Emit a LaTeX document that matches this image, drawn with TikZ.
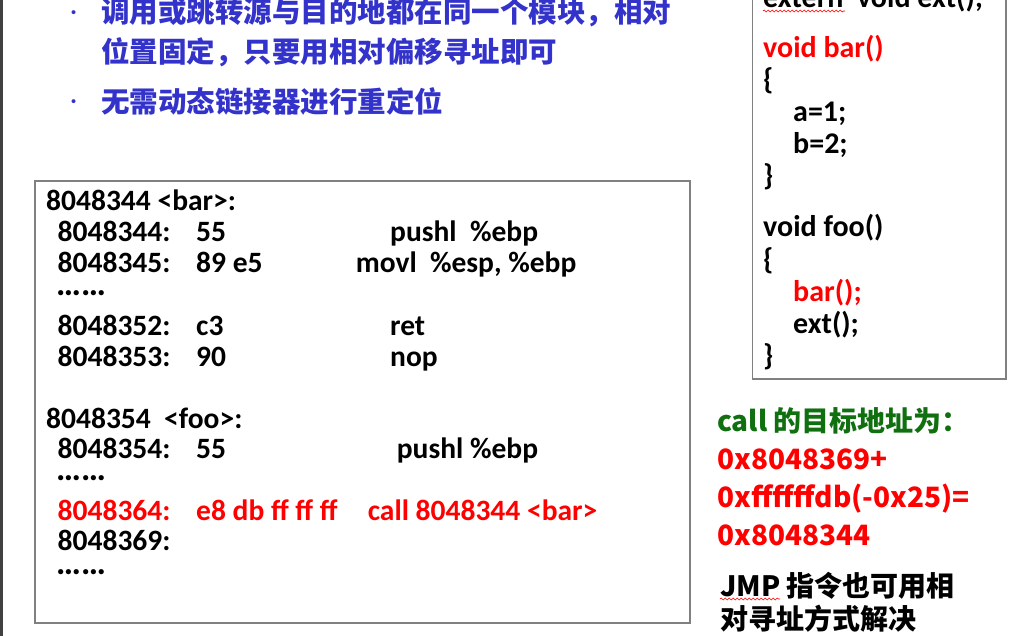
\documentclass[tikz,border=0pt]{standalone}
\usepackage{fontspec}
\setmainfont{Carlito}
\newfontfamily\cjk{Noto Sans CJK SC}
\usetikzlibrary{decorations.pathmorphing}
\definecolor{slideblue}{RGB}{51,51,204}
\definecolor{notegreen}{RGB}{16,112,16}
\definecolor{boxgray}{RGB}{128,128,128}
\definecolor{stripegray}{RGB}{64,64,64}
\tikzset{
  asm/.style={anchor=base west,inner sep=0pt,font=\fontsize{29.5}{31}\selectfont\bfseries},
  gap/.style={asm,font=\fontsize{35}{35}\selectfont\bfseries},
  src/.style={anchor=base west,inner sep=0pt,font=\fontsize{30}{32}\selectfont\bfseries},
  note/.style={anchor=base west,inner sep=0pt,font=\cjk\bfseries\fontsize{28}{34}\selectfont},
  hint/.style={note,text=slideblue,font=\cjk\bfseries\fontsize{28.5}{34}\selectfont},
  bullet/.style={anchor=base west,inner sep=0pt,text=slideblue,font=\fontsize{28}{34}\selectfont},
  wavy/.style={red,line width=0.6pt,decorate,decoration={snake,amplitude=1pt,segment length=4pt}},
}
\begin{document}
\begin{tikzpicture}[x=1pt,y=-1pt]
  \clip (0,0) rectangle (1020,636);
  \fill[stripegray] (0,0) rectangle (3,636);
  % bullet points
  \path
  (70,21) node[bullet] (dot1) {·}
  (101,23) node[hint] (line1) {调用或跳转源与目的地都在同一个模块，相对}
  (101,62.5) node[hint] (line2) {位置固定，只要用相对偏移寻址即可}
  (70,110) node[bullet] (dot2) {·}
  (101,113) node[hint] (line3) {无需动态链接器进行重定位};
  % disassembly box
  \draw[boxgray,line width=1.2pt] (35,181) rectangle (690,623);
  \path
  (46,211) node[asm] (bar) {8048344 <bar>:}
  (57.5,242) node[asm] (b1) {8048344:} ++(138.5,0) node[asm] (b1x) {55} ++(194,0) node[asm] (b1m) {pushl\ \ \%ebp}
  (57.5,273) node[asm] (b2) {8048345:} ++(138.5,0) node[asm] (b2x) {89 e5} ++(159.6,0) node[asm] (b2m) {movl\ \ \%esp, \%ebp}
  (56,296) node[gap] (b3) {……}
  (57.5,335) node[asm] (b4) {8048352:} ++(138.5,0) node[asm] (b4x) {c3} ++(194,0) node[asm] (b4m) {ret}
  (57.5,366) node[asm] (b5) {8048353:} ++(138.5,0) node[asm] (b5x) {90} ++(194,0) node[asm] (b5m) {nop}
  (46,428) node[asm] (foo) {8048354\ \ <foo>:}
  (57.5,458) node[asm] (f1) {8048354:} ++(138.5,0) node[asm] (f1x) {55} ++(200.7,0) node[asm] (f1m) {pushl \%ebp}
  (56,480) node[gap] (f2) {……}
  (57.5,520) node[asm,text=red] (f3) {8048364:} ++(138.5,0) node[asm,text=red] (f3x) {e8 db ff ff ff} ++(171.6,0) node[asm,text=red] (f3m) {call 8048344 <bar>}
  (57.5,550) node[asm] (f4) {8048369:}
  (56,574) node[gap] (f5) {……};
  % source box
  \draw[boxgray,line width=1.2pt] (752.7,-5) rectangle (1006,379);
  \path
  (763,8) node[src] (ext) {extern\ \ void ext();}
  (763,57.3) node[src,text=red] (vbar) {void bar()}
  (763,89.5) node[src] (o1) {\{}
  (793,121.7) node[src] (s1) {a=1;}
  (793,153.9) node[src] (s2) {b=2;}
  (763,186) node[src] (c1) {\}}
  (763,237) node[src] (vfoo) {void foo()}
  (763,269.2) node[src] (o2) {\{}
  (793,301.5) node[src,text=red] (s3) {bar();}
  (793,333.7) node[src] (s4) {ext();}
  (763,365.9) node[src] (c2) {\}};
  \draw[wavy] ([yshift=-3pt]ext.base west) -- ++(82,0);
  % target address note
  \path
  (717,431) node[note,text=notegreen] (n1) {call 的目标地址为：}
  (717,469) node[note,text=red] (n2) {0x8048369+}
  (717,507) node[note,text=red] (n3) {0xffffffdb(-0x25)=}
  (717,545) node[note,text=red] (n4) {0x8048344}
  (720,596) node[note] (n5) {JMP 指令也可用相}
  (720,629.7) node[note] (n6) {对寻址方式解决};
  \draw[wavy] ([yshift=-3pt]n5.base west) -- ++(60,0);
\end{tikzpicture}
\end{document}
